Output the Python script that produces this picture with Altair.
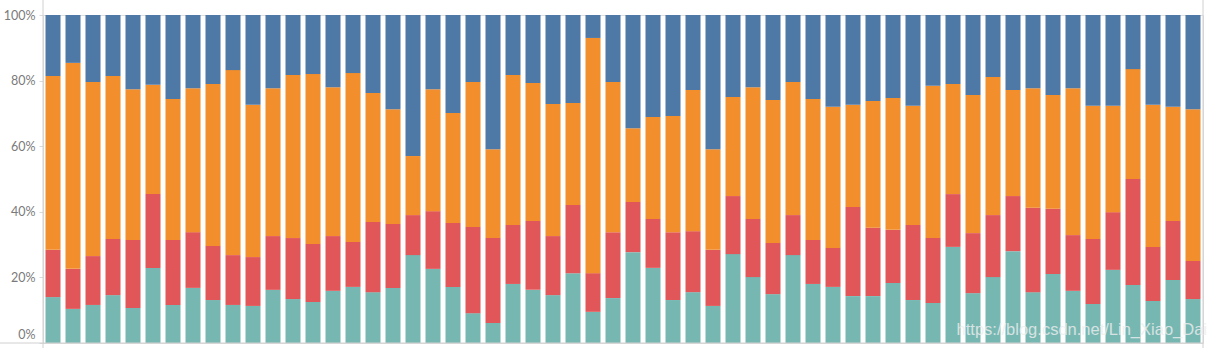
import altair as alt
import pandas as pd

categories = list(range(1, 59))
series_names = ["S1", "S2", "S3", "S4"]  # bottom -> top
series_colors = ["#76b7b2", "#e15759", "#f28e2b", "#4e79a7"]

s1 = [14.0, 10.4, 11.6, 14.6, 10.7, 22.9, 11.6, 16.8, 13.1, 11.6, 11.3, 16.2, 13.4, 12.5, 15.9,
      17.1, 15.5, 16.8, 26.8, 22.6, 17.1, 9.1, 6.1, 18.0, 16.2, 14.6, 21.3, 9.5, 13.7, 27.7,
      22.9, 13.1, 15.5, 11.3, 27.1, 20.1, 14.9, 26.8, 18.0, 17.1, 14.3, 14.3, 18.3, 13.1, 12.2,
      29.3, 15.2, 20.1, 28.0, 15.5, 21.0, 15.9, 11.9, 22.3, 17.7, 12.8, 19.2, 13.4]
s2 = [14.4, 12.2, 14.9, 17.1, 20.7, 22.5, 19.8, 17.0, 16.5, 15.2, 14.9, 16.4, 18.6, 17.7, 16.7,
      13.7, 21.4, 19.5, 12.2, 17.6, 19.5, 26.3, 25.9, 18.0, 21.0, 18.0, 20.8, 11.8, 20.1, 15.3,
      14.9, 20.7, 18.6, 17.1, 17.7, 17.7, 15.6, 12.2, 13.4, 11.9, 27.2, 20.8, 16.2, 22.9, 19.8,
      16.1, 18.3, 18.9, 16.8, 25.7, 19.9, 17.0, 19.8, 17.6, 32.3, 16.5, 18.0, 11.6]
s3 = [53.0, 62.8, 53.1, 49.7, 46.0, 33.3, 43.0, 43.9, 49.4, 56.4, 46.4, 45.1, 49.7, 51.8, 45.4,
      51.5, 39.3, 35.0, 18.0, 37.2, 33.5, 44.2, 27.1, 45.7, 42.1, 40.3, 31.1, 71.7, 45.8, 22.5,
      31.1, 35.4, 43.0, 30.7, 30.2, 40.2, 43.6, 40.6, 43.0, 43.0, 31.1, 38.7, 40.2, 36.3, 46.4,
      33.6, 42.1, 42.1, 32.3, 36.5, 34.7, 44.8, 40.6, 32.4, 33.5, 43.3, 34.8, 46.3]
s4 = [18.6, 14.6, 20.4, 18.6, 22.6, 21.3, 25.6, 22.3, 21.0, 16.8, 27.4, 22.3, 18.3, 18.0, 22.0,
      17.7, 23.8, 28.7, 43.0, 22.6, 29.9, 20.4, 40.9, 18.3, 20.7, 27.1, 26.8, 7.0, 20.4, 34.5,
      31.1, 30.8, 22.9, 40.9, 25.0, 22.0, 25.9, 20.4, 25.6, 28.0, 27.4, 26.2, 25.3, 27.7, 21.6,
      21.0, 24.4, 18.9, 22.9, 22.3, 24.4, 22.3, 27.7, 27.7, 16.5, 27.4, 28.0, 28.7]
y_ticks = [0, 0.2, 0.4, 0.6, 0.8, 1.0]
watermark = "https://blog.csdn.net/Lin_Xiao_Dai"

rows = []
for i, cat in enumerate(categories):
    for k, (name, vals) in enumerate(zip(series_names, [s1, s2, s3, s4])):
        rows.append({"cat": cat, "series": name, "idx": k, "value": vals[i]})
df = pd.DataFrame(rows)

W, H = 1160, 328
line_color = "#d0d0d0"

bars = alt.Chart(df).mark_bar().encode(
    x=alt.X("cat:O", axis=None,
            scale=alt.Scale(paddingInner=0.25, paddingOuter=0.125)),
    y=alt.Y("value:Q", stack="normalize",
            scale=alt.Scale(domain=[0, 1], nice=False),
            axis=alt.Axis(title=None, format=".0%", values=y_ticks, domain=False,
                          grid=False, tickColor="#d9d9d9", tickSize=4,
                          labelColor="#7a7a7a", labelFont="Lato", labelFontSize=12.5,
                          labelPadding=4,
                          labelOffset={"condition": {"test": "datum.value == 0", "value": -9},
                                       "value": 0})),
    color=alt.Color("series:N", legend=None,
                    scale=alt.Scale(domain=series_names, range=series_colors)),
    order=alt.Order("idx:Q", sort="ascending"),
)

one = pd.DataFrame({"a": [0]})
left_line = alt.Chart(one).mark_rule(color=line_color, strokeWidth=1).encode(
    x=alt.value(0), y=alt.value(-15), y2=alt.value(H + 5))
right_line = alt.Chart(one).mark_rule(color=line_color, strokeWidth=1).encode(
    x=alt.value(W), y=alt.value(-15), y2=alt.value(H + 5))
bottom_line = alt.Chart(one).mark_rule(color=line_color, strokeWidth=1).encode(
    x=alt.value(-43), x2=alt.value(W), y=alt.value(H))

wm = alt.Chart(one).mark_text(
    align="right", baseline="alphabetic", font="Liberation Sans", fontSize=16.5,
    color="#eeeeee", opacity=0.8
).encode(x=alt.value(W + 4), y=alt.value(H - 8), text=alt.value(watermark))

chart = alt.layer(bars, left_line, right_line, bottom_line, wm).properties(
    width=W, height=H,
    autosize=alt.AutoSizeParams(type="none"),
    padding={"left": 43, "top": 15, "right": 13, "bottom": 5},
).configure_view(stroke=None).configure(background="white")

chart.save("out.html", embed_options={"renderer": "svg", "actions": False})
